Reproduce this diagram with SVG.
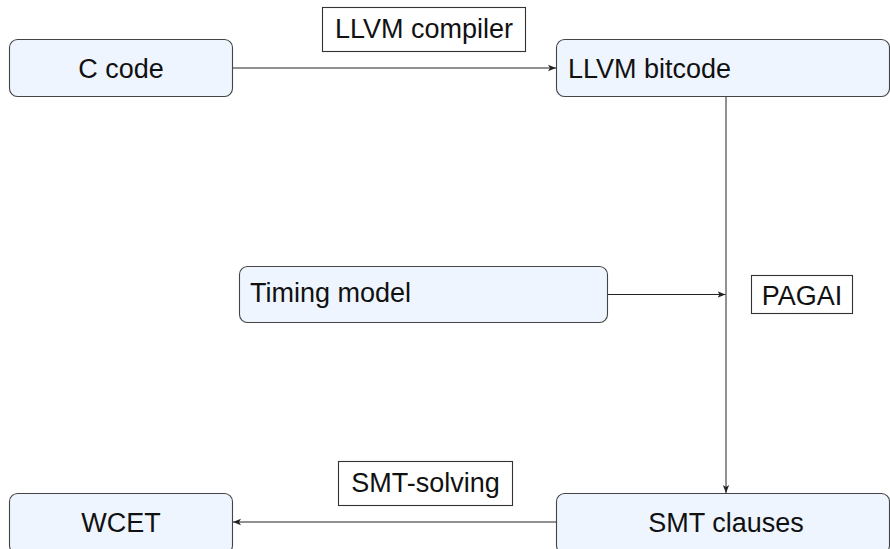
<svg xmlns="http://www.w3.org/2000/svg" width="890" height="549" viewBox="0 0 890 549">
<style>
.node{fill:#eef5fe;stroke:#444;stroke-width:1.1}
.lbl{fill:#fff;stroke:#333;stroke-width:1.1}
text{font-family:"Liberation Sans",Arial,sans-serif;font-size:27px;fill:#111}
.edge{stroke:#222;stroke-width:1;fill:none}
</style>
<defs>
<marker id="ah" viewBox="0 0 10 10" refX="10" refY="5" markerWidth="8" markerHeight="8" markerUnits="userSpaceOnUse" orient="auto">
<path d="M0,1 L10,5 L0,9 L2.5,5 Z" fill="#222"/>
</marker>
</defs>
<g id="connectors">
<line class="edge" x1="233" y1="68" x2="556" y2="68" marker-end="url(#ah)"/>
<line class="edge" x1="726" y1="97" x2="726" y2="493" marker-end="url(#ah)"/>
<line class="edge" x1="608" y1="294.5" x2="725.5" y2="294.5" marker-end="url(#ah)"/>
<line class="edge" x1="556" y1="522" x2="233" y2="522" marker-end="url(#ah)"/>
</g>
<g id="label-llvm-compiler">
<rect class="lbl" x="322.5" y="7.5" width="203" height="44"/>
<text x="424" y="38" text-anchor="middle">LLVM compiler</text>
</g>
<g id="label-pagai">
<rect class="lbl" x="751.5" y="275.5" width="101" height="38"/>
<text x="802" y="305" text-anchor="middle">PAGAI</text>
</g>
<g id="label-smt-solving">
<rect class="lbl" x="338.5" y="461.5" width="174" height="44"/>
<text x="425.5" y="491.5" text-anchor="middle">SMT-solving</text>
</g>
<g id="node-c-code">
<rect class="node" x="9.5" y="39.5" width="223" height="57" rx="8"/>
<text x="121" y="77.5" text-anchor="middle">C code</text>
</g>
<g id="node-llvm-bitcode">
<rect class="node" x="556.5" y="39.5" width="333" height="57" rx="8"/>
<text x="568" y="77.5">LLVM bitcode</text>
</g>
<g id="node-timing-model">
<rect class="node" x="239.5" y="266.5" width="368" height="56" rx="8"/>
<text x="250" y="302">Timing model</text>
</g>
<g id="node-wcet">
<rect class="node" x="9.5" y="493.5" width="223" height="60" rx="8"/>
<text x="121" y="531.5" text-anchor="middle">WCET</text>
</g>
<g id="node-smt-clauses">
<rect class="node" x="556.5" y="493.5" width="333" height="60" rx="8"/>
<text x="726" y="531.5" text-anchor="middle">SMT clauses</text>
</g>
</svg>
